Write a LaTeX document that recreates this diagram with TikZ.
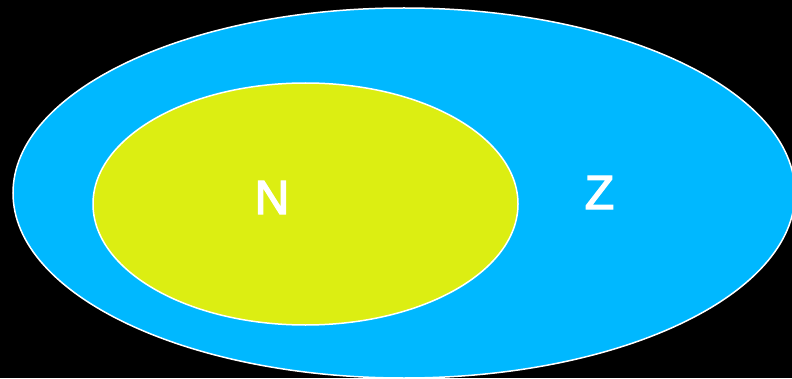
\documentclass[tikz,border=0pt]{standalone}
\usepackage{fontspec}
\setmainfont{Liberation Sans}
\newfontfamily\labfont{Liberation Sans}[BoldFont={Liberation Sans},BoldFeatures={FakeBold=3}]
\definecolor{zblue}{HTML}{00B8FF}
\definecolor{nyellow}{HTML}{DCEE12}
\tikzset{
  setshape/.style={draw=white, line width=1.5pt},
  setlabel/.style={text=white, font=\labfont\bfseries\fontsize{48}{48}\selectfont, inner sep=0pt, anchor=center}
}
\begin{document}
\begin{tikzpicture}[x=1pt,y=1pt]
\useasboundingbox (0,0) rectangle (792,378);
\clip (0,0) rectangle (792,378);
\fill[black] (0,0) rectangle (792,378);
\draw[setshape, fill=zblue] (404,185) ellipse [x radius=391, y radius=185];
\draw[setshape, fill=nyellow] (305.5,174) ellipse [x radius=212.5, y radius=121];
\node[setlabel] (N) at (272,180.5) {N};
\node[setlabel] (Z) at (599.5,185.5) {Z};
\end{tikzpicture}
\end{document}
